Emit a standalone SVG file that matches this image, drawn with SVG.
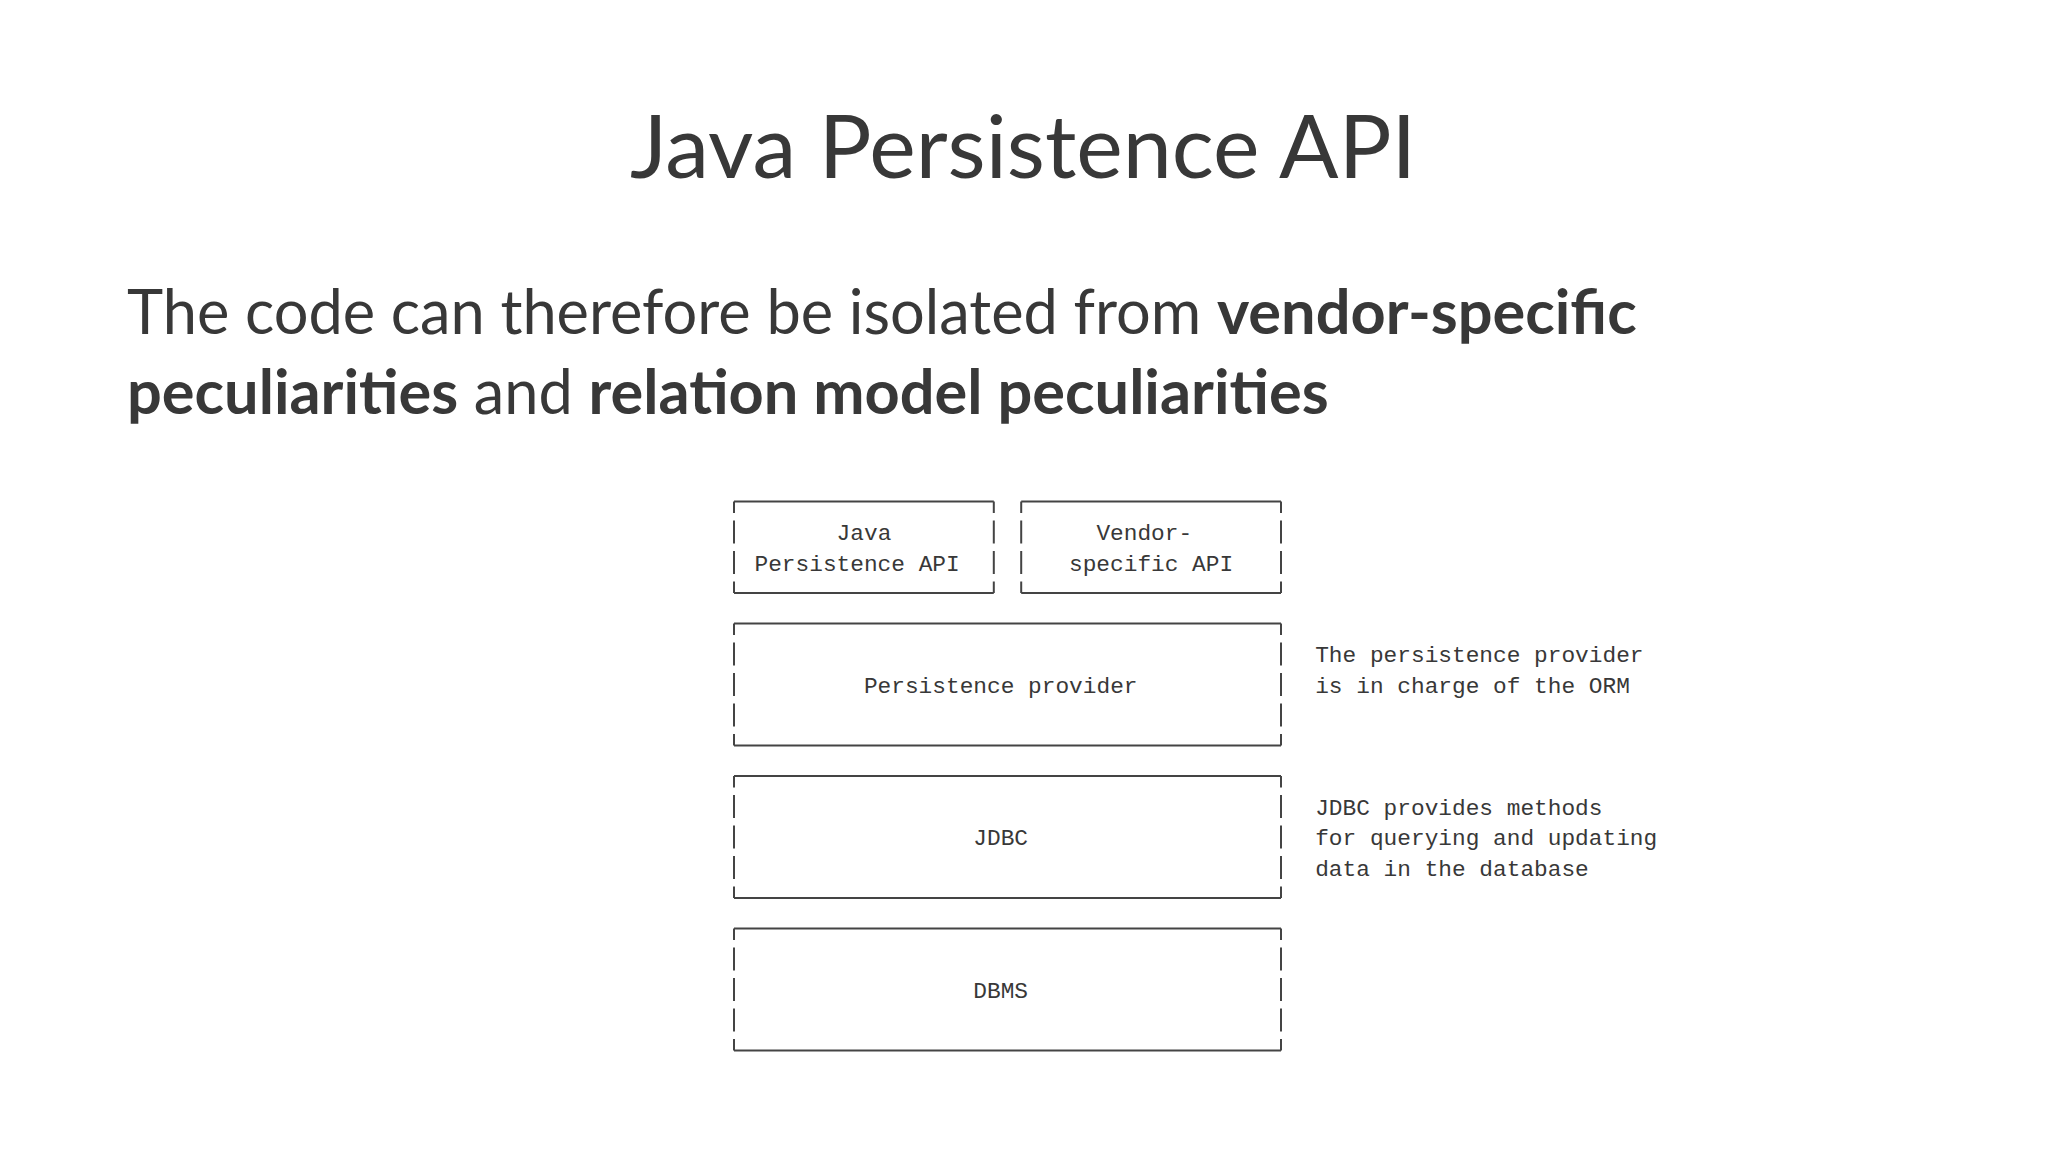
<svg xmlns="http://www.w3.org/2000/svg" width="2048" height="1152" viewBox="0 0 2048 1152">
  <style>
    .title { font-family: Lato, "Open Sans", sans-serif; font-size: 88px; fill: #383838; }
    .body { font-family: Lato, "Open Sans", sans-serif; font-size: 61.3px; fill: #383838; }
    .b { font-weight: bold; }
    .mono { font-family: "Liberation Mono", "DejaVu Sans Mono", monospace; font-size: 22.8px; fill: #383838; }
    .h { stroke: #444; stroke-width: 2; fill: none; }
    .v { stroke: #444; stroke-width: 2; fill: none; stroke-dasharray: 23 7.5; stroke-dashoffset: 11.5; }
  </style>
  <rect width="2048" height="1152" fill="#ffffff"/>
  <text class="title" x="1023" y="178" text-anchor="middle">Java Persistence API</text>
  <text class="body" x="127" y="334">The code can therefore be isolated from <tspan class="b">vendor-specific</tspan></text>
  <text class="body" x="127" y="414"><tspan class="b">peculiarities</tspan> and <tspan class="b">relation model peculiarities</tspan></text>

  <g id="jpa">
    <path class="h" d="M734 501.5H993.8M734 593H993.8"/>
    <path class="v" d="M734 501.5V593M993.8 501.5V593"/>
    <text class="mono" x="836.6" y="540">Java</text>
    <text class="mono" x="754.5" y="570.5">Persistence API</text>
  </g>
  <g id="vendor">
    <path class="h" d="M1021.2 501.5H1281M1021.2 593H1281"/>
    <path class="v" d="M1021.2 501.5V593M1281 501.5V593"/>
    <text class="mono" x="1096.4" y="540">Vendor-</text>
    <text class="mono" x="1069" y="570.5">specific API</text>
  </g>
  <g id="provider">
    <path class="h" d="M734 623.5H1281M734 745.5H1281"/>
    <path class="v" d="M734 623.5V745.5M1281 623.5V745.5"/>
    <text class="mono" x="863.9" y="692.5">Persistence provider</text>
  </g>
  <g id="jdbc">
    <path class="h" d="M734 776H1281M734 898H1281"/>
    <path class="v" d="M734 776V898M1281 776V898"/>
    <text class="mono" x="973.3" y="845">JDBC</text>
  </g>
  <g id="dbms">
    <path class="h" d="M734 928.5H1281M734 1050.5H1281"/>
    <path class="v" d="M734 928.5V1050.5M1281 928.5V1050.5"/>
    <text class="mono" x="973.3" y="997.5">DBMS</text>
  </g>
  <g id="notes">
    <text class="mono" x="1315.2" y="662">The persistence provider</text>
    <text class="mono" x="1315.2" y="692.5">is in charge of the ORM</text>
    <text class="mono" x="1315.2" y="814.5">JDBC provides methods</text>
    <text class="mono" x="1315.2" y="845">for querying and updating</text>
    <text class="mono" x="1315.2" y="875.5">data in the database</text>
  </g>
  <g id="connectors"></g>
</svg>
